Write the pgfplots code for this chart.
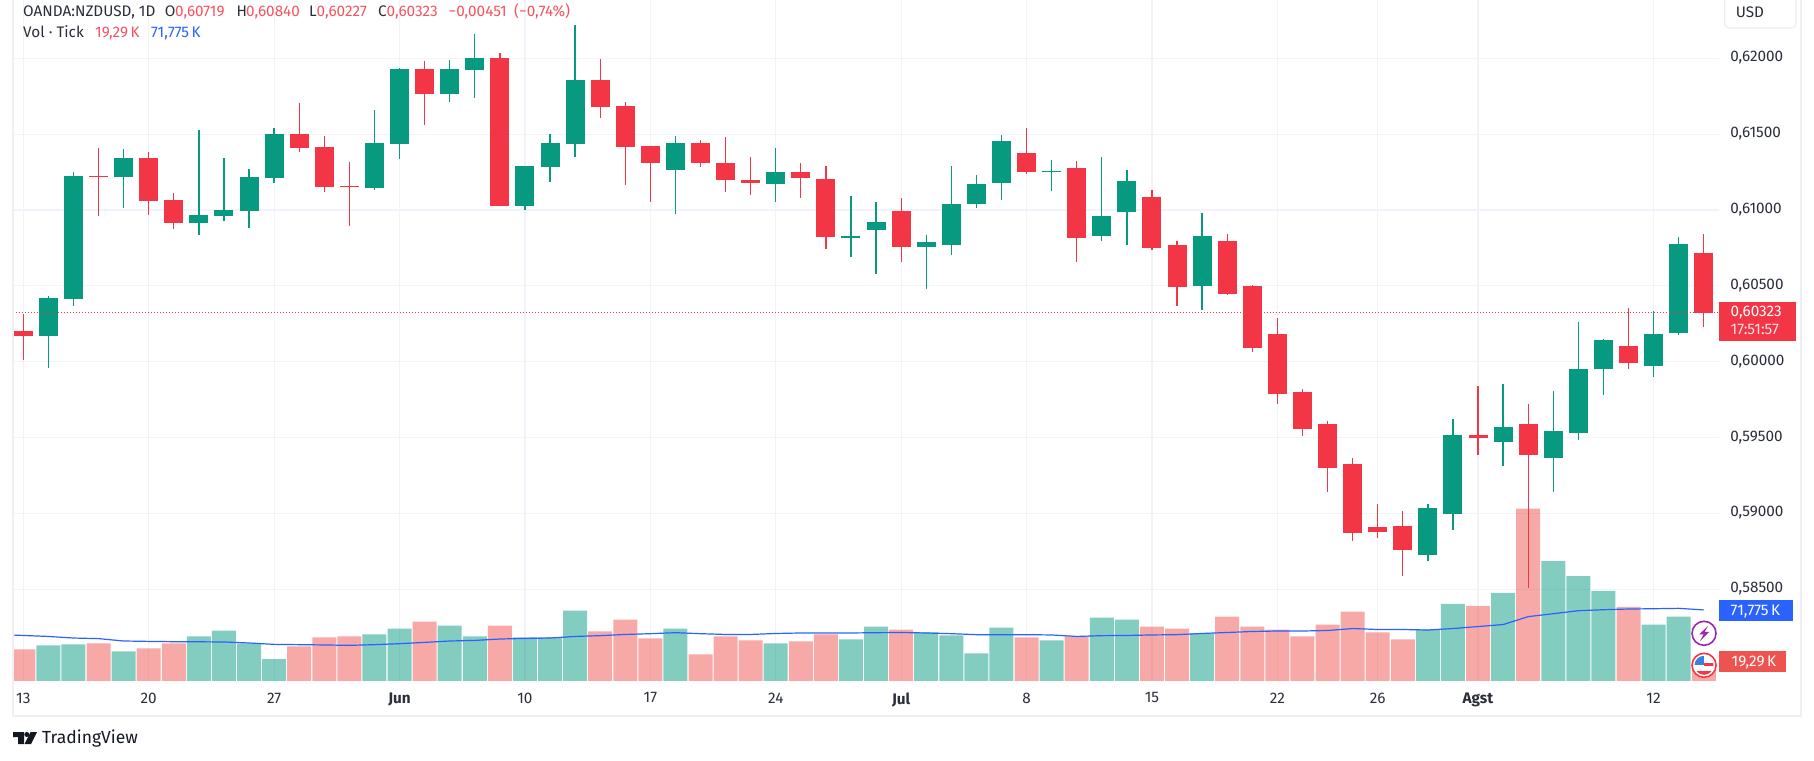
\documentclass[border=0pt]{standalone}
\usepackage{fontspec}
\setmainfont{Fira Sans}
\usepackage{pgfplots}
\usepackage{pgfplotstable}
\pgfplotsset{compat=1.18}

\definecolor{tvgreen}{HTML}{089981}
\definecolor{tvred}{HTML}{F23645}
\definecolor{tvblue}{HTML}{2962FF}
\definecolor{tvgrid}{HTML}{F0F3FA}
\definecolor{tvframe}{HTML}{EEEEF4}
\definecolor{tvtext}{HTML}{2A2E39}
\definecolor{tvlabel}{HTML}{F7525F}
\definecolor{tvvollabel}{HTML}{EF5350}
\definecolor{tvpurple}{HTML}{9C27B0}
\definecolor{tvcanton}{HTML}{3D7FE0}
\definecolor{tvdark}{HTML}{131722}

\newcommand{\tv}{\fontsize{15.3}{18}\selectfont}

% columns: day index, low, body bottom, body top, high
\pgfplotstableread{
i l b t h
1 .59959 .60170 .60420 .60434
2 .60370 .60414 .61224 .61251
4 .61014 .61218 .61343 .61402
7 .60836 .60915 .60967 .61528
8 .60928 .60961 .61000 .61343
9 .60882 .60994 .61218 .61271
10 .61178 .61211 .61501 .61541
14 .61132 .61145 .61442 .61659
15 .61337 .61435 .61930 .61936
17 .61712 .61765 .61930 .61989
18 .61739 .61923 .62002 .62160
20 .61000 .61027 .61290 .61290
21 .61185 .61284 .61442 .61501
22 .61350 .61435 .61857 .62220
26 .60974 .61264 .61442 .61488
30 .61053 .61172 .61251 .61409
33 .60691 .60816 .60829 .61093
34 .60579 .60869 .60921 .61053
36 .60480 .60757 .60789 .60836
37 .60704 .60770 .61040 .61290
38 .61014 .61040 .61172 .61231
39 .61066 .61178 .61455 .61495
41 .61126 .61251 .61257 .61330
43 .60796 .60829 .60961 .61350
44 .60770 .60987 .61192 .61264
47 .60341 .60499 .60829 .60978
56 .58687 .58726 .59036 .59063
57 .58891 .58997 .59517 .59623
59 .59313 .59471 .59570 .59854
61 .59142 .59366 .59544 .59807
62 .59484 .59531 .59952 .60262
63 .59781 .59952 .60144 .60150
65 .59900 .59972 .60183 .60335
66 .60176 .60190 .60776 .60822
}\upcandles

\pgfplotstableread{
i l b t h
0 .60012 .60170 .60203 .60315
3 .60961 .61218 .61226 .61409
5 .60967 .61060 .61343 .61383
6 .60875 .60915 .61066 .61112
11 .61383 .61409 .61501 .61706
12 .61119 .61152 .61416 .61488
13 .60895 .61152 .61159 .61317
16 .61561 .61765 .61930 .61982
19 .61027 .61027 .62002 .62035
23 .61607 .61679 .61857 .61996
24 .61165 .61416 .61686 .61712
25 .61053 .61310 .61422 .61422
27 .61284 .61310 .61442 .61462
28 .61119 .61198 .61310 .61482
29 .61099 .61178 .61198 .61350
31 .61079 .61211 .61251 .61310
32 .60743 .60822 .61205 .61290
35 .60658 .60757 .60994 .61079
40 .61238 .61251 .61376 .61541
42 .60658 .60816 .61277 .61323
45 .60737 .60750 .61086 .61132
46 .60368 .60493 .60770 .60796
48 .60440 .60447 .60796 .60842
49 .60064 .60091 .60499 .60506
50 .59722 .59788 .60183 .60289
51 .59511 .59557 .59801 .59821
52 .59142 .59300 .59590 .59610
53 .58819 .58871 .59326 .59366
54 .58838 .58878 .58911 .59063
55 .58588 .58759 .58918 .59016
58 .59386 .59498 .59517 .59840
60 .58509 .59386 .59590 .59722
64 .59952 .59992 .60104 .60354
67 .60227 .60323 .60719 .60840
}\downcandles

% volume in thousands of ticks
\pgfplotstableread{
i v
1 36
2 37
4 30
7 45
8 51
9 38
10 22
14 47
15 53
17 56
18 45
20 44
21 44
22 71
26 53
30 38
33 42
34 55
36 49
37 46
38 28
39 54
41 41
43 64
44 62
47 48
56 52
57 78
59 89
61 121
62 106
63 91
65 57
66 65
}\upvol

\pgfplotstableread{
i v
0 32
3 38
5 33
6 38
11 35
12 44
13 45
16 60
19 56
23 50
24 62
25 43
27 27
28 45
29 41
31 40
32 47
35 52
40 44
42 45
45 55
46 53
48 65
49 55
50 52
51 45
52 57
53 70
54 49
55 42
58 76
60 174
64 75
67 19.29
}\downvol

\pgfplotsset{
  tvaxis/.style={
    scale only axis, width=1706.4pt, height=681pt,
    at={(12.6pt,79pt)}, anchor=south west,
    xmin=-0.427, xmax=67.61,
  },
  priceaxis/.style={ymin=0.578958, ymax=0.623843},
}

\begin{document}
\begin{tikzpicture}
\useasboundingbox (0,0) rectangle (1814pt,760pt);

% grid and tick labels
\begin{axis}[
  tvaxis, priceaxis,
  axis line style={draw=none},
  major tick length=0pt,
  grid=both,
  grid style={tvgrid, line width=1.2pt},
  xtick={0,5,10,15,20,25,30,35,40,45,50,54,58,65},
  xticklabels={13,20,27,\textbf{Jun},10,17,24,\textbf{Jul},8,15,22,26,\textbf{Agst},12},
  ytick={0.585,0.59,0.595,0.6,0.605,0.61,0.615,0.62},
  yticklabels={{0,58500},{0,59000},{0,59500},{0,60000},{0,60500},{0,61000},{0,61500},{0,62000}},
  yticklabel pos=right,
  yticklabel style={anchor=west, inner sep=0pt, xshift=11pt, yshift=0.5pt, font=\tv, text=tvtext},
  xticklabel style={inner sep=0pt, yshift=-11.5pt, font=\tv, text=tvtext},
]
\end{axis}

% volume pane
\begin{axis}[
  tvaxis, hide axis,
  ymin=0, ymax=687.9,
  ybar, bar width=24pt, /pgf/bar shift=0pt,
]
\addplot[fill=tvgreen, fill opacity=0.5, draw=none] table[x=i, y=v] {\upvol};
\addplot[fill=tvvollabel, fill opacity=0.5, draw=none] table[x=i, y=v] {\downvol};
\addplot[sharp plot, tvblue, line width=1.2pt] coordinates {
  (-0.5,46.5) (0,46) (1,45) (2,43.4) (3,42.8) (4,40.4) (5,40) (6,39.7) (7,39.6)
  (8,39.4) (9,38.4) (10,37) (11,36.7) (12,36.4) (13,36) (14,36.7) (15,37.7)
  (16,39) (17,40.4) (18,41) (19,42.4) (20,43) (21,43.4) (22,45) (23,45.8)
  (24,47) (25,47.8) (26,48.8) (27,47.8) (28,47) (29,47) (30,48) (31,48.5)
  (32,48.5) (33,48.5) (34,48.8) (35,49) (36,48.5) (37,47.8) (38,46.8) (39,46.8)
  (40,46.8) (41,46.5) (42,45) (43,45.8) (44,46) (45,46.5) (46,46.8) (47,48)
  (48,49) (49,50) (50,50.5) (51,50.5) (52,51) (53,53) (54,52) (55,52) (56,51.5)
  (57,53) (58,55) (59,57) (60,65) (61,68) (62,71) (63,72) (64,72.7) (65,73)
  (66,73.4) (67,71.775)
};
\end{axis}

% candles: wick and body are error bars of the body bottom
\begin{axis}[tvaxis, priceaxis, hide axis]
\addplot[draw=none, mark=none, error bars/.cd, y dir=both, y explicit, error mark=none,
    error bar style={tvgreen, line width=1.3pt}]
  table[x=i, y=b, y error plus expr=\thisrow{h}-\thisrow{b}, y error minus expr=\thisrow{b}-\thisrow{l}] {\upcandles};
\addplot[draw=none, mark=none, error bars/.cd, y dir=plus, y explicit, error mark=none,
    error bar style={tvgreen, line width=19pt}]
  table[x=i, y=b, y error plus expr=\thisrow{t}-\thisrow{b}, y error minus expr=0] {\upcandles};
\addplot[draw=none, mark=none, error bars/.cd, y dir=both, y explicit, error mark=none,
    error bar style={tvred, line width=1.3pt}]
  table[x=i, y=b, y error plus expr=\thisrow{h}-\thisrow{b}, y error minus expr=\thisrow{b}-\thisrow{l}] {\downcandles};
\addplot[draw=none, mark=none, error bars/.cd, y dir=plus, y explicit, error mark=none,
    error bar style={tvred, line width=19pt}]
  table[x=i, y=b, y error plus expr=\thisrow{t}-\thisrow{b}, y error minus expr=0] {\downcandles};
% last price line
\addplot[tvred, line width=1pt, dash pattern=on 1pt off 2pt] coordinates {(-0.427,0.60323) (67.61,0.60323)};
\end{axis}

% frame
\draw[tvframe, line width=2pt] (13pt,760pt) -- (13pt,44.3pt) -- (1801pt,44.3pt) -- (1801pt,760pt);

% legend lines
\begin{scope}[every node/.style={anchor=base west, inner sep=0pt, font=\tv}]
\node[text=tvtext] at (23pt,743pt) {OANDA:NZDUSD, 1D};
\node[text=tvtext] at (164.6pt,743pt) {O};
\node[text=tvlabel] at (175pt,743pt) {0,60719};
\node[text=tvtext] at (236.5pt,743pt) {H};
\node[text=tvlabel] at (246pt,743pt) {0,60840};
\node[text=tvtext] at (309pt,743pt) {L};
\node[text=tvlabel] at (316.5pt,743pt) {0,60227};
\node[text=tvtext] at (378pt,743pt) {C};
\node[text=tvlabel] at (386.5pt,743pt) {0,60323};
\node[text=tvlabel] at (448.5pt,743pt) {−0,00451};
\node[text=tvlabel] at (514pt,743pt) {(−0,74\%)};
\node[text=tvtext] at (23pt,722pt) {Vol · Tick};
\node[text=tvlabel] at (95pt,722pt) {19,29\,K};
\node[text=tvblue] at (151pt,722pt) {71,775\,K};
\end{scope}

% currency button
\draw[tvframe, fill=white, line width=1.2pt, rounded corners=4pt] (1724.7pt,768pt) rectangle (1796pt,732pt);
\node[anchor=base west, inner sep=0pt, font=\tv, text=tvtext] at (1735.6pt,742pt) {USD};

% price and volume labels
\fill[tvred] (1719pt,458.3pt) rectangle (1796pt,419.3pt);
\node[anchor=base west, inner sep=0pt, font=\tv, text=white] at (1730.5pt,443pt) {0,60323};
\node[anchor=base west, inner sep=0pt, font=\tv, text=white!85!tvred] at (1730.5pt,425.5pt) {17:51:57};
\fill[tvblue] (1719pt,160pt) rectangle (1793pt,139pt);
\node[anchor=base west, inner sep=0pt, font=\tv, text=white] at (1730.5pt,144.5pt) {71,775\,K};
\fill[tvvollabel] (1719pt,109pt) rectangle (1786pt,88.3pt);
\node[anchor=base west, inner sep=0pt, font=\tv, text=white] at (1731.5pt,93.5pt) {19,29\,K};

% event icons
\fill[white] (1704pt,126.7pt) circle (12.7pt);
\draw[tvpurple, line width=1.6pt] (1704pt,126.7pt) circle (12pt);
\fill[tvpurple] (1708pt,134pt) -- (1699pt,125.5pt) -- (1703.5pt,125.5pt) -- (1700pt,119pt) -- (1709pt,128pt) -- (1704.5pt,128pt) -- cycle;
\fill[white] (1704pt,94.7pt) circle (12.7pt);
\begin{scope}
\clip (1704pt,94.7pt) circle (9.5pt);
\fill[tvred] (1690pt,80pt) rectangle (1718pt,89pt);
\fill[tvred] (1704pt,94pt) rectangle (1718pt,97pt);
\fill[tvcanton] (1690pt,95pt) rectangle (1704pt,110pt);
\end{scope}
\draw[tvred, line width=1.6pt] (1704pt,94.7pt) circle (12pt);

% logo
\fill[tvdark] (13pt,28pt) -- (24pt,28pt) -- (24pt,16pt) -- (18pt,16pt) -- (18pt,23pt) -- (13pt,23pt) -- cycle;
\fill[tvdark] (26.8pt,25.5pt) circle (2.5pt);
\fill[tvdark] (30.5pt,28pt) -- (37pt,28pt) -- (31pt,16pt) -- (24.5pt,16pt) -- cycle;
\node[anchor=base west, inner sep=0pt, font=\fontsize{17.5}{20}\selectfont, text=tvdark] at (42pt,17pt) {TradingView};
\end{tikzpicture}
\end{document}
